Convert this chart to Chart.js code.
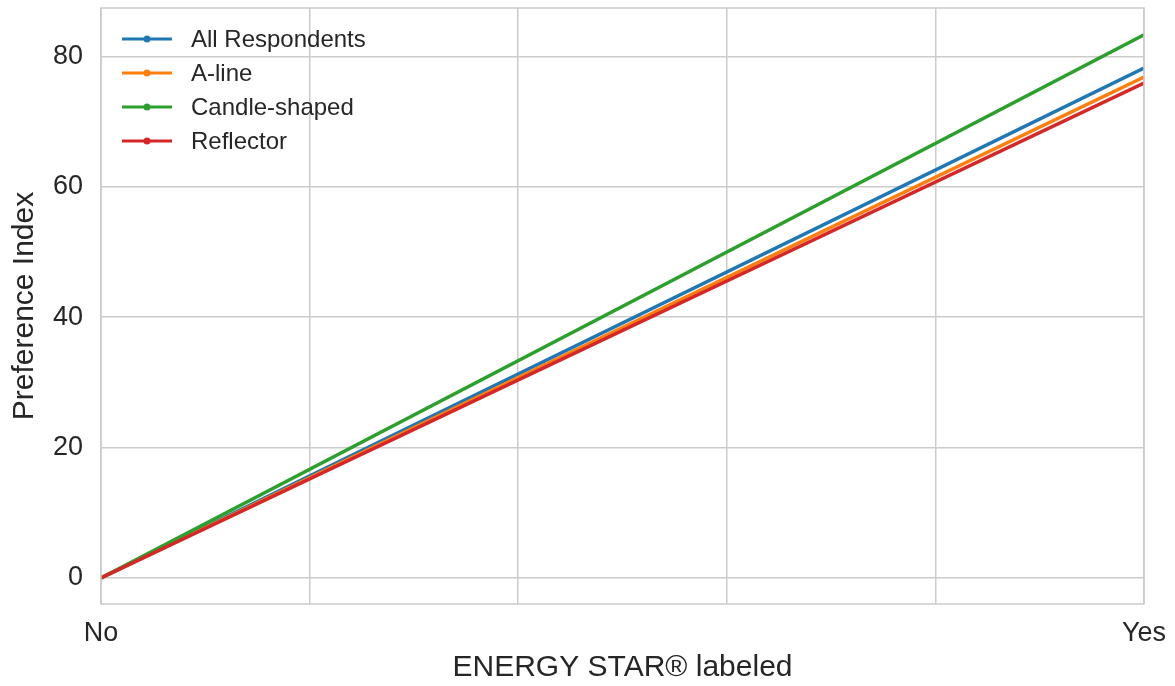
<!DOCTYPE html>
<html>
<head>
<meta charset="utf-8">
<script src="https://cdn.jsdelivr.net/npm/chart.js@4.4.0/dist/chart.umd.min.js"></script>
<style>
  html, body { margin: 0; padding: 0; background: #fff; }
</style>
</head>
<body>
<canvas id="lineChart" width="1175" height="686"></canvas>
<script>
// x positions: 0 = No, 1 = Yes
const xValues = [0, 1];
const xTickNames = {0: "No", 1: "Yes"};

const seriesNames = ["All Respondents", "A-line", "Candle-shaped", "Reflector"];
const allRespondents = [0.0, 78.2];
const aLine = [0.0, 76.8];
const candleShaped = [0.0, 83.3];
const reflector = [0.0, 75.9];
const seriesColors = ["#1f77b4", "#ff7f0e", "#2ca02c", "#d62728"];

const yMin = -4.0, yMax = 87.4;

const allSeries = [allRespondents, aLine, candleShaped, reflector];

const FONT = "'Liberation Sans', Arial, sans-serif";
const TEXT = "#262626";
const GRID = "#cccccc";

// matplotlib-ish frame + legend inside the axes
const framePlugin = {
    id: "frame",
    afterDraw(chart) {
        const {ctx, chartArea: a} = chart;
        ctx.save();
        ctx.strokeStyle = GRID;
        ctx.lineWidth = 1.5;
        ctx.strokeRect(a.left, a.top, a.right - a.left, a.bottom - a.top);

        // legend
        ctx.font = "24px " + FONT;
        ctx.textBaseline = "middle";
        let y = 39;
        chart.data.datasets.forEach(ds => {
            ctx.strokeStyle = ds.borderColor;
            ctx.lineWidth = 3;
            ctx.beginPath();
            ctx.moveTo(122, y);
            ctx.lineTo(172, y);
            ctx.stroke();
            ctx.fillStyle = ds.borderColor;
            ctx.beginPath();
            ctx.arc(147, y, 3.5, 0, Math.PI * 2);
            ctx.fill();
            ctx.fillStyle = TEXT;
            ctx.fillText(ds.label, 191, y + 1);
            y += 34;
        });
        ctx.restore();
    }
};

const CHART = document.getElementById("lineChart");

let lineChart = new Chart(CHART, {
    type: 'line',
    data: {
        datasets: seriesNames.map((name, i) => ({
            label: name,
            data: xValues.map((x, j) => ({x: x, y: allSeries[i][j]})),
            borderColor: seriesColors[i],
            backgroundColor: seriesColors[i],
            borderWidth: 3.5,
            pointRadius: 0,
            fill: false,
            tension: 0,
            clip: 0,
            order: seriesNames.length - i
        }))
    },
    options: {
        responsive: false,
        animation: false,
        layout: { padding: { top: 8, right: 31, left: 0, bottom: 0 } },
        plugins: {
            legend: { display: false },
            tooltip: { enabled: false }
        },
        scales: {
            x: {
                type: 'linear',
                min: 0,
                max: 1,
                afterFit(scale) {
                    scale.height = 82;
                    scale.paddingLeft = 0;
                    scale.paddingRight = 0;
                },
                grid: { color: GRID, lineWidth: 1.5, drawTicks: false },
                border: { display: false },
                ticks: {
                    stepSize: 0.2,
                    padding: 13,
                    maxRotation: 0,
                    autoSkip: false,
                    color: TEXT,
                    font: { family: FONT, size: 27 },
                    callback: v => xTickNames[Math.round(v * 10) / 10] || ""
                },
                title: {
                    display: true,
                    text: "ENERGY STAR\u00ae labeled",
                    color: TEXT,
                    font: { family: FONT, size: 30 },
                    padding: { top: 0, bottom: 0 }
                }
            },
            y: {
                min: yMin,
                max: yMax,
                afterFit(scale) {
                    scale.width = 101;
                    scale.paddingTop = 0;
                    scale.paddingBottom = 0;
                },
                grid: { color: GRID, lineWidth: 1.5, drawTicks: false },
                border: { display: false },
                ticks: {
                    stepSize: 20,
                    includeBounds: false,
                    padding: 18,
                    color: TEXT,
                    font: { family: FONT, size: 27 }
                },
                title: {
                    display: true,
                    text: "Preference Index",
                    color: TEXT,
                    font: { family: FONT, size: 30 },
                    padding: { top: 7, bottom: 0 }
                }
            }
        }
    },
    plugins: [framePlugin]
});
</script>
</body>
</html>
